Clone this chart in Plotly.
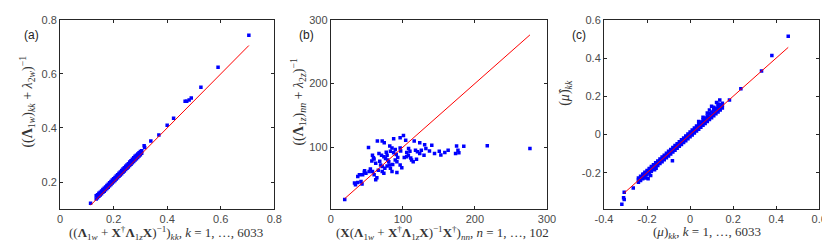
import plotly.graph_objects as go

# ---------------- data ----------------
# panel (a)
a_band_x = [0.135, 0.14, 0.145, 0.15, 0.155, 0.16, 0.165, 0.17, 0.175, 0.18, 0.185, 0.19, 0.195, 0.2,
            0.205, 0.21, 0.215, 0.22, 0.225, 0.23, 0.235, 0.24, 0.245, 0.25, 0.255, 0.26, 0.265, 0.27,
            0.275, 0.28, 0.285, 0.29, 0.295, 0.3, 0.305]
a_band_lo = [0.137, 0.142, 0.147, 0.152, 0.157, 0.162, 0.166, 0.171, 0.176, 0.181, 0.186, 0.191, 0.196,
             0.201, 0.206, 0.211, 0.216, 0.221, 0.226, 0.231, 0.236, 0.241, 0.246, 0.251, 0.256, 0.261,
             0.266, 0.271, 0.276, 0.281, 0.286, 0.291, 0.296, 0.301, 0.306]
a_band_hi = [0.149, 0.153, 0.158, 0.162, 0.167, 0.172, 0.177, 0.182, 0.187, 0.192, 0.197, 0.202, 0.207,
             0.212, 0.217, 0.222, 0.227, 0.232, 0.237, 0.243, 0.248, 0.253, 0.258, 0.263, 0.268, 0.274,
             0.279, 0.284, 0.290, 0.295, 0.299, 0.304, 0.308, 0.313, 0.316]
a_out_x = [0.114, 0.314, 0.316, 0.339, 0.369, 0.400, 0.424, 0.467, 0.473, 0.482, 0.490, 0.526, 0.590, 0.705]
a_out_y = [0.121, 0.334, 0.328, 0.352, 0.374, 0.410, 0.436, 0.499, 0.499, 0.503, 0.511, 0.551, 0.625, 0.743]
a_fit = [0.114, 0.705]

# panel (b)
b_x = [19.4, 33.0, 34.3, 37.5, 42.0, 43.4, 37.5, 39.8, 44.3, 46.6, 48.8, 53.3, 57.9, 60.2, 62.4, 52.4,
       57.9, 59.2, 57.0, 60.1, 62.4, 66.9, 70.5, 73.7, 76.0, 78.2, 80.5, 69.2, 71.4, 75.1, 78.2, 81.4,
       82.8, 85.0, 73.7, 71.4, 64.7, 71.4, 74.2, 87.3, 96.3, 100.9, 104.0, 81.9, 85.0, 89.5, 82.8, 87.3,
       90.9, 96.3, 89.5, 91.8, 96.3, 91.8, 98.6, 105.4, 107.7, 109.9, 105.4, 112.2, 114.4, 115.8, 123.5,
       117.6, 120.3, 123.5, 125.7, 129.4, 130.3, 140.2, 150.6, 152.8, 158.3, 162.9, 173.2, 174.6, 176.5,
       177.8, 184.6, 217.2, 276.4, 47.0, 55.0, 64.0, 66.0, 68.0, 77.0, 79.0, 86.0, 93.0, 97.0, 102.0,
       108.0, 111.0, 119.0, 132.0, 137.0, 144.0]
b_y = [18.0, 43.8, 41.2, 44.8, 46.4, 42.3, 54.1, 56.7, 56.7, 60.8, 59.3, 61.9, 61.9, 56.7, 49.0, 99.5,
       87.6, 83.5, 78.4, 81.4, 74.7, 90.2, 87.6, 85.1, 82.5, 87.6, 77.3, 72.2, 69.6, 67.0, 70.6, 72.2,
       67.0, 61.9, 59.3, 61.9, 109.8, 109.8, 107.2, 113.4, 115.0, 118.6, 110.8, 102.1, 99.0, 96.4, 93.8,
       91.2, 88.7, 99.0, 79.9, 77.3, 72.2, 60.3, 68.0, 91.8, 87.6, 93.8, 85.1, 79.9, 77.3, 109.8, 107.2,
       95.4, 92.8, 90.2, 95.4, 87.6, 104.1, 103.1, 93.8, 87.7, 91.7, 95.4, 90.1, 102.0, 95.4, 91.2, 101.6,
       102.5, 97.9, 63.0, 66.0, 52.0, 64.0, 78.0, 92.0, 80.0, 73.0, 84.0, 94.0, 84.0, 98.0, 83.0, 81.0,
       98.0, 94.0, 90.0]
b_fit = [19.4, 276.4]

# panel (c)
c_band_x = [-0.24, -0.23, -0.22, -0.21, -0.20, -0.19, -0.18, -0.17, -0.16, -0.15, -0.14, -0.13, -0.12,
            -0.11, -0.10, -0.09, -0.08, -0.07, -0.06, -0.05, -0.04, -0.03, -0.02, -0.01, 0.0, 0.01, 0.02,
            0.03, 0.04, 0.05, 0.06, 0.07, 0.08, 0.09, 0.10, 0.11, 0.12, 0.13, 0.14, 0.15]
c_band_lo = [-0.250, -0.241, -0.231, -0.221, -0.211, -0.202, -0.192, -0.182, -0.172, -0.162, -0.152,
             -0.142, -0.132, -0.122, -0.112, -0.102, -0.092, -0.082, -0.072, -0.062, -0.052, -0.042,
             -0.032, -0.022, -0.012, -0.002, 0.008, 0.018, 0.028, 0.038, 0.048, 0.058, 0.068, 0.078,
             0.088, 0.098, 0.108, 0.118, 0.128, 0.139]
c_band_mid = [-0.238, -0.228, -0.218, -0.208, -0.198, -0.188, -0.178, -0.168, -0.158, -0.148, -0.138,
              -0.128, -0.118, -0.108, -0.098, -0.088, -0.078, -0.068, -0.058, -0.048, -0.038, -0.028,
              -0.018, -0.008, 0.002, 0.012, 0.022, 0.032, 0.042, 0.052, 0.062, 0.072, 0.082, 0.092,
              0.102, 0.112, 0.122, 0.132, 0.142, 0.152]
c_band_hi = [-0.228, -0.218, -0.208, -0.198, -0.188, -0.178, -0.168, -0.158, -0.148, -0.138, -0.128,
             -0.118, -0.108, -0.098, -0.088, -0.078, -0.068, -0.058, -0.048, -0.038, -0.028, -0.018,
             -0.008, 0.003, 0.013, 0.023, 0.034, 0.044, 0.054, 0.065, 0.076, 0.086, 0.097, 0.108,
             0.118, 0.128, 0.138, 0.148, 0.156, 0.163]
c_out_x = [-0.317, -0.309, -0.306, -0.306, -0.264, -0.215, -0.206, -0.195, -0.183, -0.165, -0.158,
           -0.142, -0.082, 0.04, 0.06, 0.08, 0.09, 0.10, 0.11, 0.123, 0.13, 0.138, 0.183, 0.236, 0.332,
           0.380, 0.456]
c_out_y = [-0.365, -0.331, -0.340, -0.302, -0.280, -0.208, -0.228, -0.231, -0.214, -0.185, -0.177,
           -0.142, -0.137, 0.068, 0.090, 0.112, 0.128, 0.148, 0.142, 0.167, 0.160, 0.181, 0.181, 0.239,
           0.332, 0.414, 0.514]
c_fit = [-0.306, 0.456]

# ---------------- figure ----------------
W, H = 830, 242
BLUE = "#0000ff"
RED = "#ff0000"
MS = 3.5


def pxx(v):
    return v / W


def pyy(v):
    return 1 - v / H


fig = go.Figure()


def add_pts(x, y, ax):
    fig.add_trace(go.Scatter(x=x, y=y, mode="markers", xaxis=ax[0], yaxis=ax[1],
                             marker=dict(symbol="square", size=MS, color=BLUE, line=dict(width=0)),
                             showlegend=False, hoverinfo="skip"))


def add_fit(f, ax):
    fig.add_trace(go.Scatter(x=f, y=f, mode="lines", xaxis=ax[0], yaxis=ax[1],
                             line=dict(color=RED, width=1), showlegend=False, hoverinfo="skip"))


A = ("x", "y")
B = ("x2", "y2")
C = ("x3", "y3")
for ys in (a_band_lo, a_band_hi):
    add_pts(a_band_x, ys, A)
add_pts(a_out_x, a_out_y, A)
add_fit(a_fit, A)

add_pts(b_x, b_y, B)
add_fit(b_fit, B)

for ys in (c_band_lo, c_band_mid, c_band_hi):
    add_pts(c_band_x, ys, C)
add_pts(c_out_x, c_out_y, C)
add_fit(c_fit, C)

ax_common = dict(showline=True, linecolor="#262626", linewidth=1, mirror="ticks", ticks="inside",
                 ticklen=3, tickcolor="#262626", showgrid=False, zeroline=False,
                 ticklabeloverflow="allow",
                 tickfont=dict(family="Liberation Sans, Arial, sans-serif", size=11, color="#4a4a4a"))

EPS = 1e-6
ydom = [pyy(200), pyy(6)]
fig.update_layout(
    width=W, height=H, margin=dict(l=0, r=0, t=0, b=0),
    paper_bgcolor="white", plot_bgcolor="white",
    xaxis=dict(ax_common, domain=[pxx(44), pxx(263)], range=[0, 0.8 + EPS], anchor="y",
               tickvals=[0, 0.2, 0.4, 0.6, 0.8], ticktext=["0", "0.2", "0.4", "0.6", "0.8"]),
    yaxis=dict(ax_common, domain=ydom, range=[0.1, 0.8 + EPS], anchor="x",
               tickvals=[0.2, 0.4, 0.6, 0.8], ticktext=["0.2", "0.4", "0.6", "0.8"]),
    xaxis2=dict(ax_common, domain=[pxx(320.7), pxx(541.7)], range=[0, 300.001], anchor="y2",
                tickvals=[0, 100, 200, 300], ticktext=["0", "100", "200", "300"]),
    yaxis2=dict(ax_common, domain=ydom, range=[3, 300.001], anchor="x2",
                tickvals=[100, 200, 300], ticktext=["100", "200", "300"]),
    xaxis3=dict(ax_common, domain=[pxx(600), pxx(820)], range=[-0.4 - EPS, 0.6 + EPS], anchor="y3",
                tickvals=[-0.4, -0.2, 0, 0.2, 0.4, 0.6], ticktext=["-0.4", "-0.2", "0", "0.2", "0.4", "0.6"]),
    yaxis3=dict(ax_common, domain=ydom, range=[-0.39, 0.6 + EPS], anchor="x3",
                tickvals=[-0.2, 0, 0.2, 0.4, 0.6], ticktext=["-0.2", "0", "0.2", "0.4", "0.6"]),
)

SERIF_X = dict(family="Liberation Serif, Times New Roman, serif", size=13, color="#333333")
SERIF_Y = dict(family="Liberation Serif, Times New Roman, serif", size=14, color="#333333")
SANS = dict(family="Liberation Sans, Arial, sans-serif", size=12, color="#222222")

x_titles = [
    ("((<b>Λ</b><sub>1<i>w</i></sub> + <b>X</b><sup>†</sup><b>Λ</b><sub>1<i>z</i></sub><b>X</b>)<sup>−1</sup>)"
     "<sub><i>kk</i></sub>, <i>k</i> = 1, …, 6033", 152),
    ("(<b>X</b>(<b>Λ</b><sub>1<i>w</i></sub> + <b>X</b><sup>†</sup><b>Λ</b><sub>1<i>z</i></sub><b>X</b>)"
     "<sup>−1</sup><b>X</b><sup>†</sup>)<sub><i>nn</i></sub>, <i>n</i> = 1, …, 102", 435),
    ("(<i>μ</i>)<sub><i>kk</i></sub>, <i>k</i> = 1, …, 6033", 705),
]
for text, x in x_titles:
    fig.add_annotation(text=text, x=pxx(x), y=pyy(213), xref="paper", yref="paper",
                       showarrow=False, font=SERIF_X, xanchor="center", yanchor="top")

y_titles = [
    ("((<b>Λ</b><sub>1<i>w</i></sub>)<sub><i>kk</i></sub> + <i>λ</i><sub>2<i>w</i></sub>)<sup>−1</sup>", 10, 90),
    ("((<b>Λ</b><sub>1<i>z</i></sub>)<sub><i>nn</i></sub> + <i>λ</i><sub>2<i>z</i></sub>)<sup>−1</sup>", 287, 90),
    ("(<i>μ̂</i>)<sub><i>kk</i></sub>", 561, 81),
]
for text, x, y in y_titles:
    fig.add_annotation(text=text, x=pxx(x), y=pyy(y), xref="paper", yref="paper",
                       showarrow=False, textangle=-90, font=SERIF_Y, xanchor="center", yanchor="middle")

for text, x, y in [("(a)", 15, 22), ("(b)", 296, 22), ("(c)", 574, 22)]:
    fig.add_annotation(text=text, x=pxx(x), y=pyy(y), xref="paper", yref="paper",
                       showarrow=False, font=SANS, xanchor="center", yanchor="middle")

fig.write_html("out.html")
